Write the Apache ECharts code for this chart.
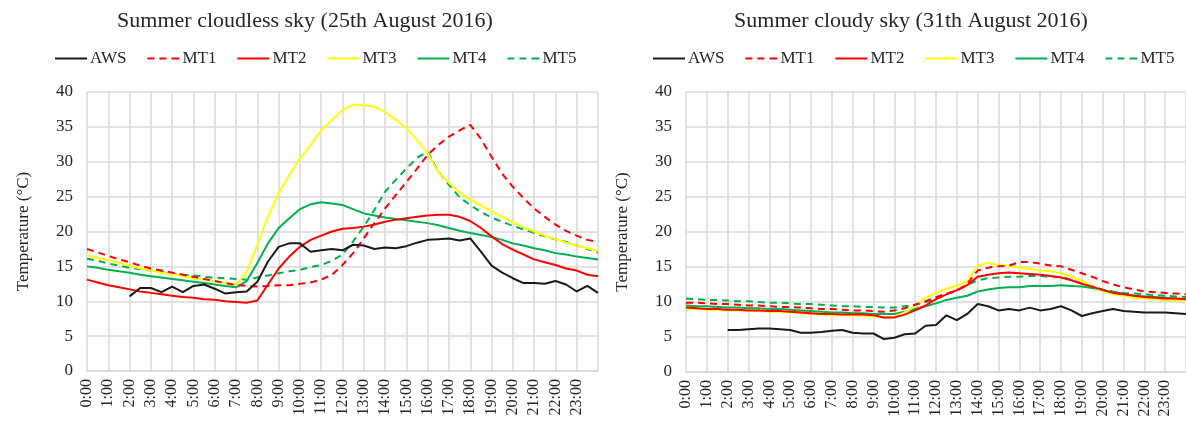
<!DOCTYPE html>
<html><head><meta charset="utf-8">
<script src="https://cdn.jsdelivr.net/npm/echarts@6/dist/echarts.min.js"></script>
<style>html,body{margin:0;padding:0;background:#fff}#c{width:1186px;height:428px}</style>
</head><body><div id="c"></div>
<script>
var times = ["0:00","0:30","1:00","1:30","2:00","2:30","3:00","3:30","4:00","4:30","5:00","5:30","6:00","6:30","7:00","7:30","8:00","8:30","9:00","9:30","10:00","10:30","11:00","11:30","12:00","12:30","13:00","13:30","14:00","14:30","15:00","15:30","16:00","16:30","17:00","17:30","18:00","18:30","19:00","19:30","20:00","20:30","21:00","21:30","22:00","22:30","23:00","23:30","24:00"];
var seriesNames = ["AWS","MT1","MT2","MT3","MT4","MT5"];
var yTicks = [0,5,10,15,20,25,30,35,40];
var titleLeft = "Summer cloudless sky (25th August 2016)";
var titleRight = "Summer cloudy sky (31th August 2016)";
var yName = "Temperature (°C)";

// Left panel: cloudless day
var awsL = [null,null,null,null,10.7,11.9,11.9,11.3,12.1,11.3,12.2,12.4,11.8,11.1,11.3,11.4,12.8,15.7,17.8,18.3,18.3,17.1,17.3,17.5,17.3,18.1,18.0,17.5,17.7,17.6,17.9,18.4,18.8,18.9,19.0,18.7,19.0,17.1,15.1,14.1,13.3,12.6,12.6,12.5,12.9,12.4,11.4,12.2,11.2];
var mt1L = [17.5,17.0,16.5,16.0,15.6,15.1,14.7,14.4,14.1,13.8,13.5,13.2,12.9,12.6,12.3,12.2,12.1,12.2,12.3,12.3,12.5,12.7,13.1,13.8,15.2,16.9,19.0,21.2,23.3,25.2,27.1,29.0,31.0,32.4,33.6,34.5,35.3,33.3,30.7,28.3,26.4,24.8,23.3,22.1,21.0,20.1,19.4,18.8,18.5];
var mt2L = [13.1,12.7,12.3,12.0,11.7,11.4,11.2,11.0,10.8,10.6,10.5,10.3,10.2,10.0,9.9,9.8,10.1,12.4,14.7,16.4,17.8,18.8,19.4,20.0,20.4,20.5,20.7,21.0,21.4,21.7,21.9,22.1,22.3,22.4,22.4,22.1,21.5,20.5,19.3,18.2,17.4,16.7,16.0,15.6,15.2,14.7,14.4,13.8,13.6];
var mt3L = [16.6,16.2,15.9,15.5,15.1,14.7,14.4,14.1,13.9,13.6,13.3,13.1,12.9,12.6,12.4,14.3,18.1,22.1,25.5,28.1,30.5,32.4,34.5,36.0,37.4,38.2,38.1,37.9,37.1,36.0,34.8,33.1,31.2,28.5,27.0,25.6,24.6,23.7,22.9,22.1,21.3,20.6,20.0,19.4,18.9,18.4,18.0,17.6,17.2];
var mt4L = [15.0,14.8,14.5,14.3,14.1,13.8,13.6,13.4,13.2,13.0,12.8,12.6,12.4,12.2,12.0,12.9,15.5,18.3,20.5,21.9,23.2,23.9,24.2,24.0,23.8,23.2,22.6,22.3,22.0,21.8,21.6,21.4,21.2,20.9,20.5,20.1,19.8,19.5,19.2,18.8,18.3,18.0,17.6,17.3,16.9,16.7,16.4,16.2,16.0];
var mt5L = [16.1,15.8,15.4,15.1,14.8,14.6,14.4,14.2,14.0,13.8,13.7,13.5,13.4,13.3,13.2,13.1,13.4,13.7,14.0,14.3,14.5,14.9,15.2,15.8,16.7,18.6,20.7,23.1,25.7,27.4,29.0,30.6,31.4,28.6,26.7,24.9,23.8,22.8,22.0,21.4,20.8,20.3,19.8,19.3,18.9,18.5,18.0,17.5,17.0];

// Right panel: cloudy day
var awsR = [null,null,null,null,6.0,6.0,6.1,6.2,6.2,6.1,6.0,5.6,5.6,5.7,5.9,6.0,5.6,5.5,5.5,4.7,4.9,5.4,5.5,6.6,6.7,8.1,7.4,8.3,9.7,9.4,8.8,9.0,8.8,9.2,8.8,9.0,9.4,8.8,8.0,8.4,8.7,9.0,8.7,8.6,8.5,8.5,8.5,8.4,8.3];
var mt1R = [9.9,9.9,9.8,9.7,9.7,9.6,9.5,9.5,9.4,9.3,9.3,9.2,9.1,9.0,9.0,8.9,8.8,8.8,8.7,8.6,8.8,9.1,9.6,10.1,10.7,11.2,11.6,12.6,14.5,14.9,15.1,15.2,15.7,15.7,15.5,15.2,15.1,14.6,14.1,13.6,13.0,12.5,12.1,11.8,11.5,11.4,11.3,11.2,11.1];
var mt2R = [9.2,9.1,9.0,9.0,8.9,8.9,8.8,8.8,8.7,8.7,8.6,8.5,8.4,8.3,8.3,8.2,8.2,8.2,8.1,7.8,7.8,8.2,8.8,9.5,10.4,11.1,11.7,12.4,13.6,13.9,14.1,14.2,14.1,14.0,13.9,13.7,13.5,13.1,12.6,12.2,11.7,11.3,11.1,10.9,10.7,10.6,10.5,10.5,10.4];
var mt3R = [9.0,9.0,8.9,8.9,8.8,8.8,8.7,8.7,8.6,8.6,8.5,8.4,8.3,8.2,8.1,8.1,8.1,8.0,8.0,7.8,7.9,8.5,9.4,10.6,11.3,11.9,12.3,13.0,15.2,15.6,15.3,15.2,14.9,14.7,14.5,14.4,14.1,13.6,13.0,12.3,11.5,11.1,10.9,10.6,10.5,10.4,10.3,10.2,10.2];
var mt4R = [9.5,9.4,9.4,9.3,9.2,9.2,9.1,9.1,9.0,9.0,8.9,8.8,8.7,8.6,8.5,8.5,8.4,8.4,8.3,8.3,8.3,8.6,9.0,9.4,9.8,10.3,10.6,10.9,11.5,11.8,12.0,12.1,12.1,12.3,12.3,12.3,12.4,12.3,12.2,12.0,11.7,11.4,11.2,10.9,10.8,10.7,10.6,10.5,10.4];
var mt5R = [10.5,10.4,10.3,10.3,10.2,10.1,10.1,10.0,9.9,9.9,9.8,9.7,9.7,9.6,9.5,9.4,9.4,9.3,9.3,9.2,9.2,9.4,9.6,10.0,10.4,11.1,11.6,12.4,13.1,13.4,13.5,13.6,13.6,13.7,13.7,13.6,13.6,13.2,12.6,12.2,11.8,11.5,11.3,11.2,11.1,11.0,10.9,10.8,10.7];

var FONT = "Liberation Serif";
var TXT = "#262626";
var GRID_C = "#d9d9d9";
var styles = {
  AWS: {color:"#1a1a1a", type:"solid"},
  MT1: {color:"#ff0000", type:[7,5]},
  MT2: {color:"#ff0000", type:"solid"},
  MT3: {color:"#ffff00", type:"solid"},
  MT4: {color:"#00b050", type:"solid"},
  MT5: {color:"#00b050", type:[7,5]}
};
var leftData = [awsL, mt1L, mt2L, mt3L, mt4L, mt5L];
var rightData = [awsR, mt1R, mt2R, mt3R, mt4R, mt5R];

var SOLID_ICON = "path://M0,0H32V2H0Z";
var DASH_ICON = "path://M0,0H7V2H0Z M12,0H19V2H12Z M24,0H32V2H24Z";

function hourIdx(i){ return i % 2 === 0 && i < 48; }

function xAxis(gi){
  return {
    type:"category", gridIndex:gi, data:times, boundaryGap:false,
    axisLine:{show:true, lineStyle:{color:GRID_C, width:1.5}},
    axisTick:{show:false},
    axisLabel:{interval:function(i){return hourIdx(i);}, rotate:90, fontFamily:FONT, fontSize:16, color:TXT, margin:8},
    splitLine:{show:true, interval:function(i){return i % 2 === 0;}, lineStyle:{color:GRID_C, width:1.5}}
  };
}
function yAxis(gi){
  return {
    type:"value", gridIndex:gi, min:0, max:40, interval:5,
    name:yName, nameLocation:"middle", nameGap:55, nameRotate:90,
    nameTextStyle:{fontFamily:FONT, fontSize:17, color:TXT},
    axisLine:{show:false}, axisTick:{show:false},
    axisLabel:{fontFamily:FONT, fontSize:17, color:TXT, margin:14,
      formatter:function(v){ return yTicks.indexOf(v) >= 0 ? String(v) : ""; }},
    splitLine:{show:true, lineStyle:{color:GRID_C, width:1.5}}
  };
}
var series = [];
[leftData, rightData].forEach(function(set, gi){
  set.forEach(function(d, j){
    var n = seriesNames[j];
    series.push({
      name:n, type:"line", xAxisIndex:gi, yAxisIndex:gi, data:d,
      showSymbol:false, symbol:"none", smooth:false, connectNulls:false,
      lineStyle:{color:styles[n].color, type:styles[n].type, width:2},
      itemStyle:{color:styles[n].color},
      z: 10 - j
    });
  });
});
function legend(left){
  return {
    left:left, top:45, itemWidth:32, itemHeight:2, itemGap:21,
    data:seriesNames.map(function(n){
      return {name:n, icon:(styles[n].type === "solid" ? SOLID_ICON : DASH_ICON), itemStyle:{color:styles[n].color}};
    }),
    textStyle:{fontFamily:FONT, fontSize:17, color:TXT, padding:[0,0,0,-2]}
  };
}
var chart = echarts.init(document.getElementById("c"), null, {renderer:"canvas"});
chart.setOption({
  animation:false,
  backgroundColor:"#fff",
  title:[
    {text:titleLeft, left:300, top:5, textAlign:"center", textStyle:{fontFamily:FONT, fontSize:22, fontWeight:"normal", color:TXT}},
    {text:titleRight, left:906, top:5, textAlign:"center", textStyle:{fontFamily:FONT, fontSize:22, fontWeight:"normal", color:TXT}}
  ],
  legend:[legend(50), legend(648)],
  grid:[
    {left:87, right:588, top:92, bottom:57},
    {left:686, right:-8, top:92, bottom:56}
  ],
  xAxis:[xAxis(0), xAxis(1)],
  yAxis:[yAxis(0), yAxis(1)],
  series:series
});
</script></body></html>
